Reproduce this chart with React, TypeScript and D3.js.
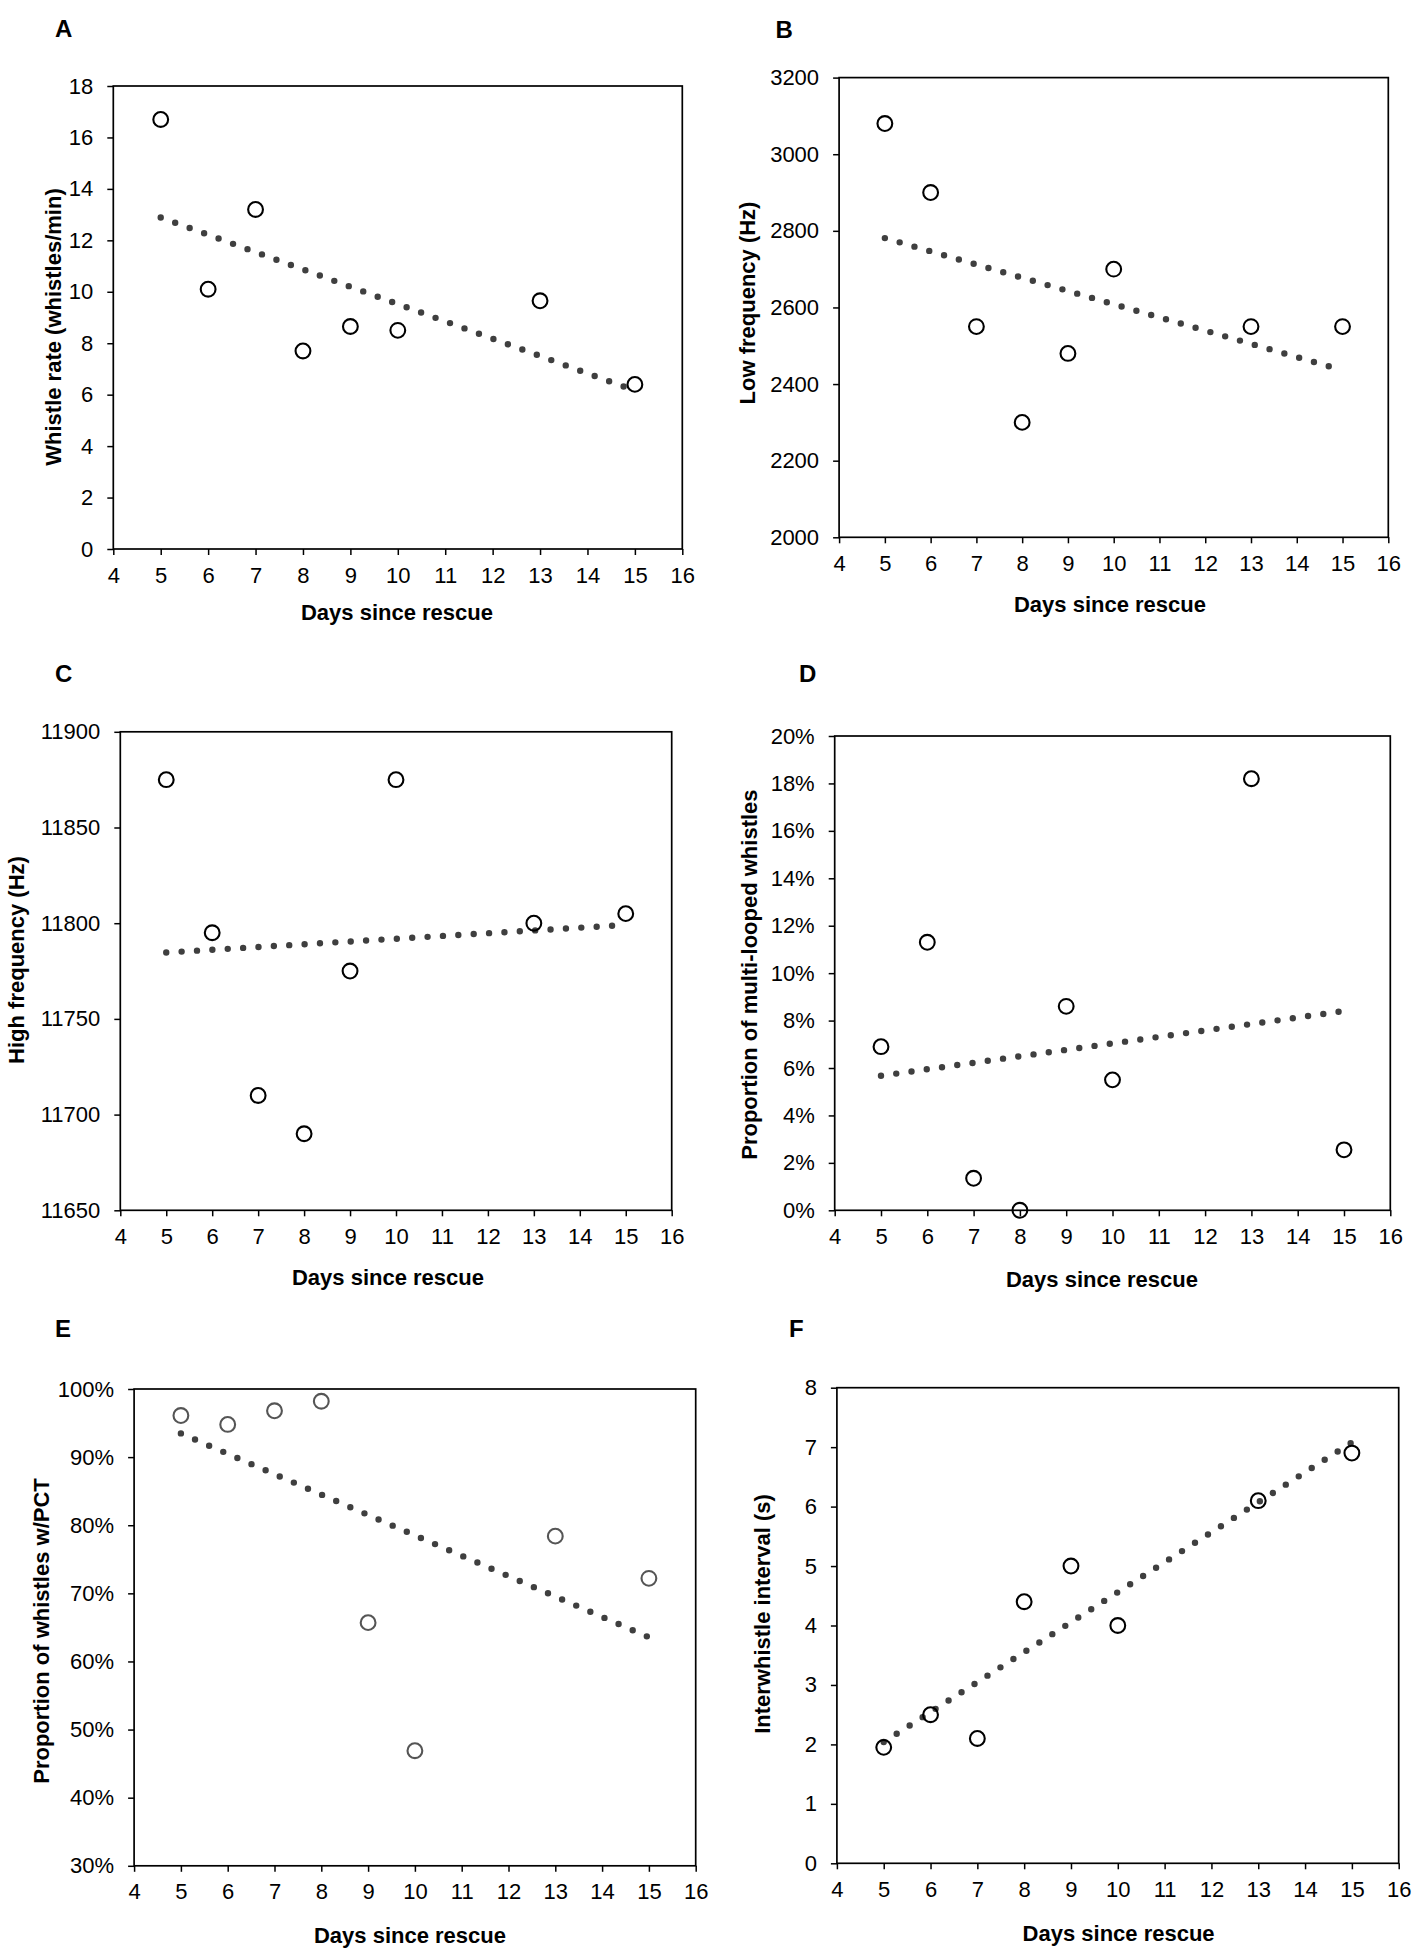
import React, { useRef, useEffect } from 'react'
import * as d3 from 'd3'

// Days on which recordings were made (shared x values of all six panels)
const days = [5, 6, 7, 8, 9, 10, 13, 15]

// Series values
const whistleRate = [16.7, 10.1, 13.2, 7.7, 8.65, 8.5, 9.65, 6.4]
const lowFrequency = [3080, 2900, 2550, 2300, 2480, 2700, 2550, 2550]
const highFrequency = [11875, 11795, 11710, 11690, 11775, 11875, 11800, 11805]
const multiLooped = [0.069, 0.113, 0.0135, 0, 0.086, 0.055, 0.182, 0.0255]
const withPct = [0.961, 0.948, 0.968, 0.982, 0.657, 0.469, 0.784, 0.722]
const interval = [1.95, 2.5, 2.1, 4.4, 5.0, 4.0, 6.1, 6.9]

// Tick labels
const xTicks = [4, 5, 6, 7, 8, 9, 10, 11, 12, 13, 14, 15, 16]
const rateTicks = [0, 2, 4, 6, 8, 10, 12, 14, 16, 18]
const lowTicks = [2000, 2200, 2400, 2600, 2800, 3000, 3200]
const highTicks = [11650, 11700, 11750, 11800, 11850, 11900]
const loopTicks = [0, 0.02, 0.04, 0.06, 0.08, 0.1, 0.12, 0.14, 0.16, 0.18, 0.2]
const pctTicks = [0.3, 0.4, 0.5, 0.6, 0.7, 0.8, 0.9, 1.0]
const intervalTicks = [0, 1, 2, 3, 4, 5, 6, 7, 8]

const xTitle = 'Days since rescue'

interface Panel {
  letter: string
  yTitle: string
  values: number[]
  yTicks: number[]
  format: (v: number) => string
  // layout (pixels)
  left: number
  right: number
  top: number
  bottom: number
  letterX: number
  letterY: number
  yTitleX: number
  yTitleY: number
  xTitleX: number
  xTitleY: number
  markerColor: string
}

const intFmt = d3.format('d')
const pctFmt = d3.format('.0%')

const panels: Panel[] = [
  {
    letter: 'A', yTitle: 'Whistle rate (whistles/min)', values: whistleRate, yTicks: rateTicks, format: intFmt,
    left: 113.3, right: 682.3, top: 86, bottom: 549,
    letterX: 55, letterY: 37, yTitleX: 53, yTitleY: 327, xTitleX: 397, xTitleY: 620, markerColor: '#000',
  },
  {
    letter: 'B', yTitle: 'Low frequency (Hz)', values: lowFrequency, yTicks: lowTicks, format: intFmt,
    left: 839.1, right: 1388.3, top: 77.6, bottom: 537.3,
    letterX: 775.6, letterY: 37.6, yTitleX: 747, yTitleY: 303, xTitleX: 1110, xTitleY: 611.5, markerColor: '#000',
  },
  {
    letter: 'C', yTitle: 'High frequency (Hz)', values: highFrequency, yTicks: highTicks, format: intFmt,
    left: 120.3, right: 671.7, top: 731.8, bottom: 1210.3,
    letterX: 55, letterY: 682, yTitleX: 16, yTitleY: 960, xTitleX: 388, xTitleY: 1285, markerColor: '#000',
  },
  {
    letter: 'D', yTitle: 'Proportion of multi-looped whistles', values: multiLooped, yTicks: loopTicks, format: pctFmt,
    left: 834.7, right: 1390.3, top: 736, bottom: 1210.3,
    letterX: 799, letterY: 682, yTitleX: 749, yTitleY: 974.6, xTitleX: 1102, xTitleY: 1287, markerColor: '#000',
  },
  {
    letter: 'E', yTitle: 'Proportion of whistles w/PCT', values: withPct, yTicks: pctTicks, format: pctFmt,
    left: 134.1, right: 695.7, top: 1389, bottom: 1865.8,
    letterX: 55, letterY: 1337.3, yTitleX: 41.3, yTitleY: 1631, xTitleX: 410, xTitleY: 1943, markerColor: '#555555',
  },
  {
    letter: 'F', yTitle: 'Interwhistle interval (s)', values: interval, yTicks: intervalTicks, format: intFmt,
    left: 836.9, right: 1398.7, top: 1387.7, bottom: 1863.3,
    letterX: 789, letterY: 1337.3, yTitleX: 762.3, yTitleY: 1614, xTitleX: 1118.6, xTitleY: 1941, markerColor: '#000',
  },
]

// Ordinary least squares fit, as the linear trendline of the spreadsheet
function linearFit(xs: number[], ys: number[]) {
  const mx = d3.mean(xs) as number
  const my = d3.mean(ys) as number
  let sxy = 0
  let sxx = 0
  xs.forEach((x, i) => {
    sxy += (x - mx) * (ys[i] - my)
    sxx += (x - mx) * (x - mx)
  })
  const slope = sxy / sxx
  return (x: number) => my + slope * (x - mx)
}

const FONT = '"Liberation Sans", Arial, Helvetica, sans-serif'

export default function App() {
  const svgRef = useRef<SVGSVGElement>(null)

  useEffect(() => {
    if (!svgRef.current) return
    const svg = d3.select(svgRef.current)
    svg.selectAll('*').remove()

    panels.forEach(p => {
      const g = svg.append('g')

      const x = d3.scaleLinear().domain([4, 16]).range([p.left, p.right])
      const y = d3
        .scaleLinear()
        .domain([p.yTicks[0], p.yTicks[p.yTicks.length - 1]])
        .range([p.bottom, p.top])

      // Axes
      const xAxis = g
        .append('g')
        .attr('transform', `translate(0, ${p.bottom})`)
        .call(d3.axisBottom(x).tickValues(xTicks).tickSize(6).tickSizeOuter(0).tickPadding(12).tickFormat(intFmt as any))
      const yAxis = g
        .append('g')
        .attr('transform', `translate(${p.left}, 0)`)
        .call(d3.axisLeft(y).tickValues(p.yTicks).tickSize(6).tickSizeOuter(0).tickPadding(14).tickFormat(p.format as any))

      ;[xAxis, yAxis].forEach(a => {
        a.select('.domain').remove()
        a.selectAll('.tick line').attr('stroke', '#000').attr('stroke-width', 1.5)
        a.selectAll('.tick text')
          .attr('fill', '#000')
          .style('font-family', FONT)
          .style('font-size', '22px')
      })

      // Plot frame
      g.append('rect')
        .attr('x', p.left)
        .attr('y', p.top)
        .attr('width', p.right - p.left)
        .attr('height', p.bottom - p.top)
        .attr('fill', 'none')
        .attr('stroke', '#000')
        .attr('stroke-width', 1.7)

      // Dotted linear trendline over the range of the data
      const fit = linearFit(days, p.values)
      const ext = d3.extent(days) as [number, number]
      const trend = d3
        .line<number>()
        .x(d => x(d))
        .y(d => y(fit(d)))
      g.append('path')
        .datum(ext)
        .attr('d', trend)
        .attr('fill', 'none')
        .attr('stroke', '#3f3f3f')
        .attr('stroke-width', 6.4)
        .attr('stroke-linecap', 'round')
        .attr('stroke-dasharray', '0 15.4')

      // Open circle markers
      g.selectAll('circle.pt')
        .data(days)
        .enter()
        .append('circle')
        .attr('class', 'pt')
        .attr('cx', d => x(d))
        .attr('cy', (_, i) => y(p.values[i]))
        .attr('r', 7.4)
        .attr('fill', 'none')
        .attr('stroke', p.markerColor)
        .attr('stroke-width', 2.1)

      // Titles
      g.append('text')
        .attr('x', p.xTitleX)
        .attr('y', p.xTitleY)
        .attr('text-anchor', 'middle')
        .style('font-family', FONT)
        .style('font-size', '22px')
        .style('font-weight', 'bold')
        .text(xTitle)

      g.append('text')
        .attr('transform', `translate(${p.yTitleX + 8}, ${p.yTitleY}) rotate(-90)`)
        .attr('text-anchor', 'middle')
        .style('font-family', FONT)
        .style('font-size', '22px')
        .style('font-weight', 'bold')
        .text(p.yTitle)

      g.append('text')
        .attr('x', p.letterX)
        .attr('y', p.letterY)
        .style('font-family', FONT)
        .style('font-size', '24px')
        .style('font-weight', 'bold')
        .text(p.letter)
    })
  }, [])

  return (
    <div style={{ position: 'absolute', left: 0, top: 0, background: '#fff' }}>
      <svg ref={svgRef} width={1417} height={1949} style={{ display: 'block' }} />
    </div>
  )
}
